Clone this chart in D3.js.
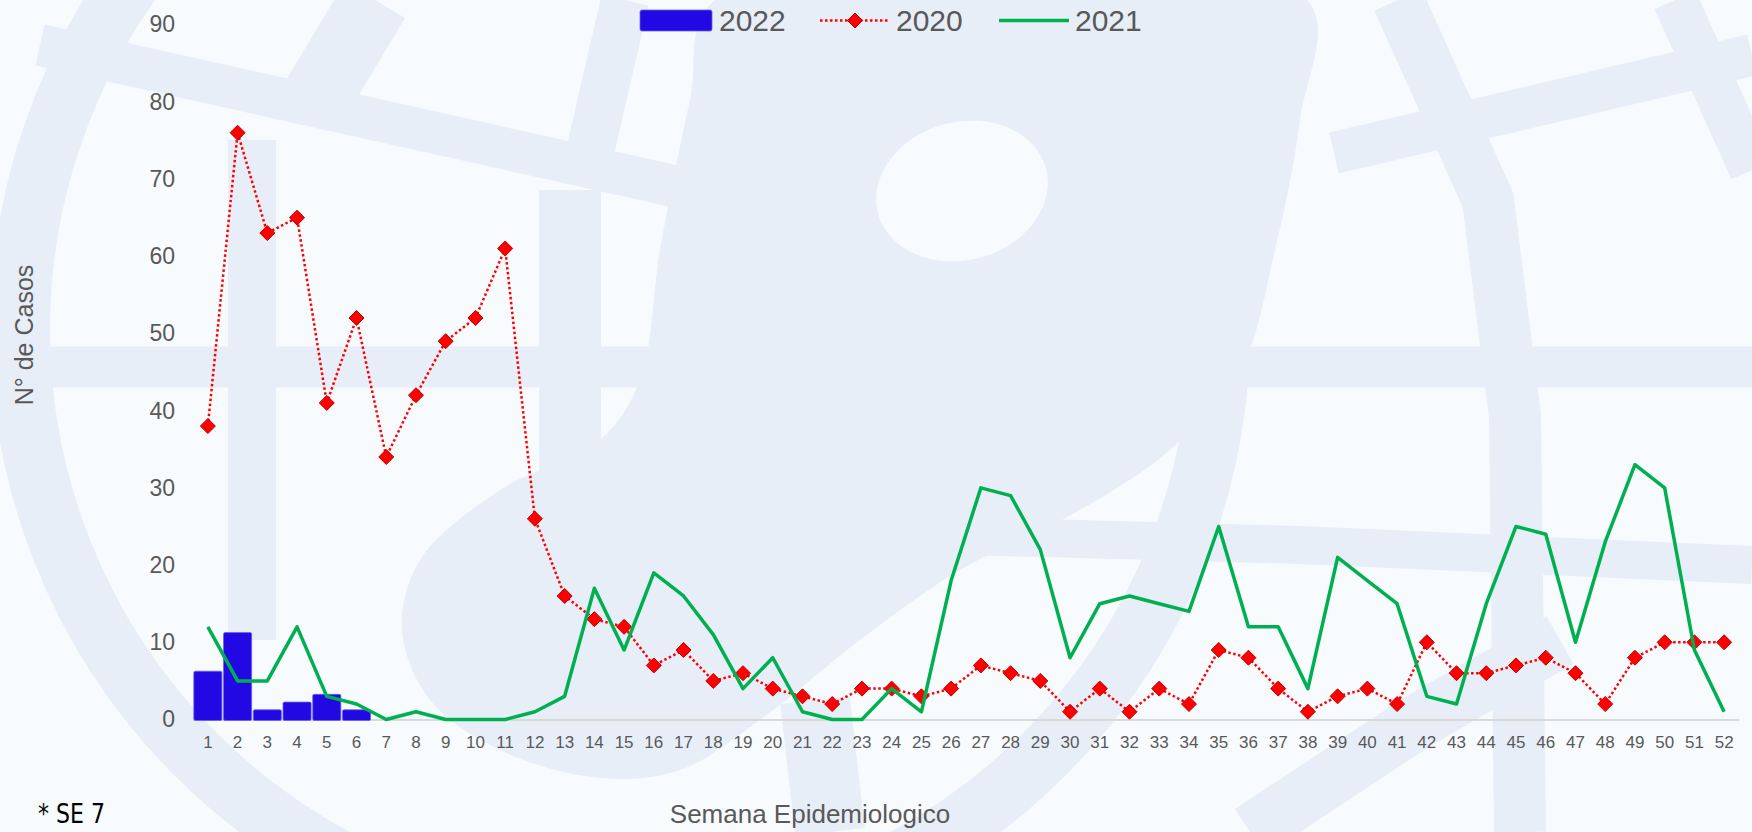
<!DOCTYPE html>
<html>
<head>
<meta charset="utf-8">
<script src="https://cdn.jsdelivr.net/npm/d3@7/dist/d3.min.js"></script>
<style>
	body { margin: 0; background: #f8fbfd; }
	svg { display: block; font-family: 'Liberation Sans', Arial, sans-serif; }
</style>
</head>
<body>
<div id="chart"></div>
<script>
// semanas epidemiologicas
const weeks = [1, 2, 3, 4, 5, 6, 7, 8, 9, 10, 11, 12, 13, 14, 15, 16, 17, 18, 19, 20,
	21, 22, 23, 24, 25, 26, 27, 28, 29, 30, 31, 32, 33, 34, 35, 36, 37, 38, 39, 40,
	41, 42, 43, 44, 45, 46, 47, 48, 49, 50, 51, 52];

// 2022 (barras, hasta SE 6)
const cases2022 = [6, 11, 1, 2, 3, 1];

// 2020 (linea punteada con rombos)
const cases2020 = [38, 76, 63, 65, 41, 52, 34, 42, 49, 52, 61, 26, 16, 13, 12, 7, 9, 5, 6, 4,
	3, 2, 4, 4, 3, 4, 7, 6, 5, 1, 4, 1, 4, 2, 9, 8, 4, 1, 3, 4,
	2, 10, 6, 6, 7, 8, 6, 2, 8, 10, 10, 10];

// 2021 (linea verde)
const cases2021 = [12, 5, 5, 12, 3, 2, 0, 1, 0, 0, 0, 1, 3, 17, 9, 19, 16, 11, 4, 8,
	1, 0, 0, 4, 1, 18, 30, 29, 22, 8, 15, 16, 15, 14, 25, 12, 12, 4, 21, 18,
	15, 3, 2, 15, 25, 24, 10, 23, 33, 30, 9, 1];

const yTicks = [0, 10, 20, 30, 40, 50, 60, 70, 80, 90];

const width = 1752, height = 832;
const plotLeft = 193, plotRight = 1739, plotTop = 24.6, plotBottom = 719.5;

const svg = d3.select('#chart').append('svg')
	.attr('width', width)
	.attr('height', height);

svg.append('rect')
	.attr('width', width)
	.attr('height', height)
	.attr('fill', '#f8fbfd');

// marca de agua (logo de fondo), aproximada
const wm = svg.append('g').attr('class', 'watermark');
const wmColor = '#e7eef8';

const blob = [[715, 0], [1307, 0], [1300, 120], [1275, 250], [1240, 371], [1170, 450], [1080, 510],
	[960, 570], [860, 640], [760, 720], [680, 770], [600, 778], [500, 750], [430, 700], [402, 630],
	[420, 560], [500, 490], [600, 440], [640, 380], [660, 250], [690, 100]];
wm.append('path')
	.attr('d', d3.line().curve(d3.curveCatmullRomClosed)(blob))
	.attr('fill', wmColor);

wm.append('circle')
	.attr('cx', 620).attr('cy', 330).attr('r', 600)
	.attr('fill', 'none')
	.attr('stroke', wmColor)
	.attr('stroke-width', 60);

const bands = [
	{ pts: [[40, 45], [678, 187]], w: 42 },
	{ pts: [[375, 0], [315, 100]], w: 70 },
	{ pts: [[252, 140], [252, 640]], w: 48 },
	{ pts: [[570, 190], [570, 560]], w: 62 },
	{ pts: [[625, 0], [587, 165]], w: 48 },
	{ pts: [[0, 367], [1752, 367]], w: 41 },
	{ pts: [[1334, 153], [1752, 55]], w: 42 },
	{ pts: [[1398, 0], [1488, 200], [1515, 416], [1520, 832]], w: 52 },
	{ pts: [[1675, 0], [1752, 170]], w: 45 },
	{ pts: [[930, 535], [1300, 545], [1752, 565]], w: 38 },
	{ pts: [[1250, 832], [1420, 720], [1560, 640]], w: 55 },
	{ pts: [[815, 700], [830, 832]], w: 70 }
];
bands.forEach((b) => {
	wm.append('path')
		.attr('d', d3.line()(b.pts))
		.attr('fill', 'none')
		.attr('stroke', wmColor)
		.attr('stroke-width', b.w);
});

wm.append('ellipse')
	.attr('cx', 962).attr('cy', 191)
	.attr('rx', 87).attr('ry', 69)
	.attr('transform', 'rotate(-15, 962, 191)')
	.attr('fill', '#f8fbfd');

// escalas
const xScale = d3.scaleBand()
	.domain(weeks)
	.range([plotLeft, plotRight])
	.padding(0);

const yScale = d3.scaleLinear()
	.domain([0, 90])
	.range([plotBottom, plotTop]);

const xMid = (w) => xScale(w) + xScale.bandwidth() / 2;

// eje x
const xAxis = svg.append('g')
	.attr('transform', `translate(0, ${plotBottom})`)
	.call(d3.axisBottom(xScale).tickSize(0).tickPadding(16).tickSizeOuter(0));
xAxis.select('.domain')
	.attr('stroke', '#d9d9d9')
	.attr('stroke-width', 2);
xAxis.selectAll('text')
	.attr('fill', '#595959')
	.style('font-size', '17px')
	.style('font-family', "'Liberation Sans', Arial, sans-serif");

// eje y
const yAxis = svg.append('g')
	.attr('transform', `translate(${plotLeft}, 0)`)
	.call(d3.axisLeft(yScale).tickValues(yTicks).tickSize(0).tickPadding(18));
yAxis.select('.domain').remove();
yAxis.selectAll('text')
	.attr('fill', '#595959')
	.style('font-size', '23px')
	.style('font-family', "'Liberation Sans', Arial, sans-serif");

// barras 2022
svg.append('g')
	.selectAll('rect')
	.data(cases2022)
	.enter()
	.append('rect')
		.attr('x', (d, i) => xScale(weeks[i]) + 0.8)
		.attr('y', (d) => yScale(d) - 2)
		.attr('width', xScale.bandwidth() - 1.6)
		.attr('height', (d) => plotBottom - yScale(d) + 3)
		.attr('rx', 1.5)
		.attr('fill', '#2208e3')
		.attr('stroke', '#6d60ef')
		.attr('stroke-width', 0.8);

// 2020
svg.append('path')
	.datum(cases2020)
	.attr('d', d3.line().x((d, i) => xMid(weeks[i])).y((d) => yScale(d)))
	.attr('fill', 'none')
	.attr('stroke', '#ff0000')
	.attr('stroke-width', 2.5)
	.attr('stroke-dasharray', '2.5 2.5');

const diamond = (cx, cy, r) => `M${cx},${cy - r}L${cx + r},${cy}L${cx},${cy + r}L${cx - r},${cy}Z`;

svg.append('g')
	.selectAll('path')
	.data(cases2020)
	.enter()
	.append('path')
		.attr('d', (d, i) => diamond(xMid(weeks[i]), yScale(d), 7.5))
		.attr('fill', '#ff0000')
		.attr('stroke', '#c00000')
		.attr('stroke-width', 1);

// 2021
svg.append('path')
	.datum(cases2021)
	.attr('d', d3.line().x((d, i) => xMid(weeks[i])).y((d) => yScale(d)))
	.attr('fill', 'none')
	.attr('stroke', '#00b050')
	.attr('stroke-width', 3.5)
	.attr('stroke-linejoin', 'round');

// leyenda
const legend = svg.append('g')
	.style('font-size', '30px')
	.attr('fill', '#595959');

legend.append('rect')
	.attr('x', 640).attr('y', 10)
	.attr('width', 72).attr('height', 21)
	.attr('rx', 2)
	.attr('fill', '#2208e3')
	.attr('stroke', '#6d60ef')
	.attr('stroke-width', 0.8);
legend.append('text')
	.attr('x', 719).attr('y', 31)
	.text('2022');

legend.append('line')
	.attr('x1', 820).attr('x2', 889)
	.attr('y1', 20.5).attr('y2', 20.5)
	.attr('stroke', '#ff0000')
	.attr('stroke-width', 2.5)
	.attr('stroke-dasharray', '2.5 2.5');
legend.append('path')
	.attr('d', diamond(855, 20.5, 7.5))
	.attr('fill', '#ff0000')
	.attr('stroke', '#c00000')
	.attr('stroke-width', 1);
legend.append('text')
	.attr('x', 896).attr('y', 31)
	.text('2020');

legend.append('line')
	.attr('x1', 999).attr('x2', 1069)
	.attr('y1', 20.5).attr('y2', 20.5)
	.attr('stroke', '#00b050')
	.attr('stroke-width', 3.5);
legend.append('text')
	.attr('x', 1075).attr('y', 31)
	.text('2021');

// titulos de ejes
svg.append('text')
	.attr('transform', 'translate(33, 335) rotate(-90)')
	.attr('text-anchor', 'middle')
	.attr('fill', '#595959')
	.style('font-size', '25px')
	.text('N° de Casos');

svg.append('text')
	.attr('x', 810).attr('y', 823)
	.attr('text-anchor', 'middle')
	.attr('fill', '#595959')
	.style('font-size', '26px')
	.text('Semana Epidemiologico');

svg.append('text')
	.attr('x', 38).attr('y', 823)
	.attr('fill', '#000000')
	.attr('textLength', 67)
	.attr('lengthAdjust', 'spacingAndGlyphs')
	.style('font-size', '26px')
	.style('font-family', "'Liberation Sans Narrow', 'DejaVu Sans Condensed', sans-serif")
	.text('* SE 7');
</script>
</body>
</html>
